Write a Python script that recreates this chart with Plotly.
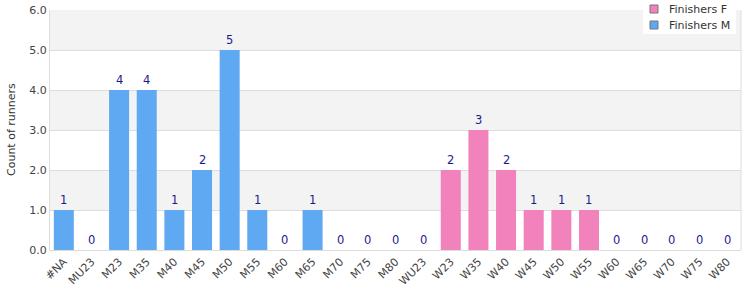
import plotly.graph_objects as go

categories = ["#NA", "MU23", "M23", "M35", "M40", "M45", "M50", "M55", "M60", "M65",
              "M70", "M75", "M80", "WU23", "W23", "W35", "W40", "W45", "W50", "W55",
              "W60", "W65", "W70", "W75", "W80"]
finishers_m = [1, 0, 4, 4, 1, 2, 5, 1, 0, 1, 0, 0, 0, 0, None, None, None, None, None, None,
               None, None, None, None, None]
finishers_f = [None] * 14 + [2, 3, 2, 1, 1, 1, 0, 0, 0, 0, 0]
totals = [m if m is not None else f for m, f in zip(finishers_m, finishers_f)]
legend_names = ["Finishers F", "Finishers M"]

BLUE = "#5fa8f2"
PINK = "#f282bb"
FONT = "DejaVu Sans"

W, H = 750, 300
L, R, T, B = 50, 9, 10, 50
PW, PH = W - L - R, H - T - B


def px(x):
    return (x - L) / PW


def py(y):
    return (H - B - y) / PH


fig = go.Figure()
fig.add_trace(go.Bar(x=categories, y=finishers_m, marker=dict(color=BLUE, line=dict(width=0)),
                     showlegend=False, name="Finishers M"))
fig.add_trace(go.Bar(x=categories, y=finishers_f, marker=dict(color=PINK, line=dict(width=0)),
                     showlegend=False, name="Finishers F"))

shapes = []
for lo in [1, 3, 5]:
    shapes.append(dict(type="rect", xref="paper", yref="y", x0=0, x1=1, y0=lo, y1=lo + 1,
                       fillcolor="#f3f3f3", line=dict(width=0), layer="below"))
shapes.append(dict(type="line", xref="paper", yref="paper", x0=1, x1=1, y0=0, y1=1,
                   line=dict(color="#dddddd", width=1)))
annotations = []
# value labels from the data
for cat, v in zip(categories, totals):
    annotations.append(dict(x=cat, y=v, xref="x", yref="y", text=str(v), showarrow=False,
                            xanchor="center", yanchor="bottom", yshift=1,
                            font=dict(family=FONT, size=11.5, color="#1a1a8a")))
# manual legend
shapes.append(dict(type="rect", xref="paper", yref="paper", x0=px(643), x1=px(736),
                   y0=py(34), y1=py(0), fillcolor="white", line=dict(width=0), layer="above"))
for i, (name, col) in enumerate(zip(legend_names, [PINK, BLUE])):
    yc = 9 + 16 * i
    shapes.append(dict(type="rect", xref="paper", yref="paper", x0=px(650), x1=px(658),
                       y0=py(yc + 4), y1=py(yc - 4), fillcolor=col,
                       line=dict(color="#777777", width=1), layer="above"))
    annotations.append(dict(xref="paper", yref="paper", x=px(667), y=py(yc), text=name,
                            showarrow=False, xanchor="left", yanchor="middle",
                            font=dict(family=FONT, size=11, color="#333333")))
annotations.append(dict(xref="paper", yref="paper", x=px(11), y=0.5, text="Count of runners",
                        textangle=-90, showarrow=False, xanchor="center", yanchor="middle",
                        font=dict(family=FONT, size=11, color="#333333")))

fig.update_layout(
    width=W, height=H,
    margin=dict(l=L, r=R, t=T, b=B, autoexpand=False),
    paper_bgcolor="white", plot_bgcolor="white",
    barmode="overlay", bargap=0.276,
    font=dict(family=FONT, size=11, color="#444444"),
    shapes=shapes, annotations=annotations,
    showlegend=False,
    xaxis=dict(categoryorder="array", categoryarray=categories, tickangle=-45,
               range=[-0.5, len(categories) - 0.5],
               showgrid=False, showline=True, linecolor="#dddddd", linewidth=1,
               automargin=False,
               tickfont=dict(family=FONT, size=11, color="#444444"), ticks=""),
    yaxis=dict(range=[0, 6], tickvals=[0, 1, 2, 3, 4, 5, 6], tickformat=".1f",
               showgrid=True, gridcolor="#dddddd", gridwidth=1, zeroline=False,
               showline=True, linecolor="#dddddd", linewidth=1, automargin=False,
               tickfont=dict(family=FONT, size=11, color="#444444"), ticks=""),
)

fig.write_html("out.html")
